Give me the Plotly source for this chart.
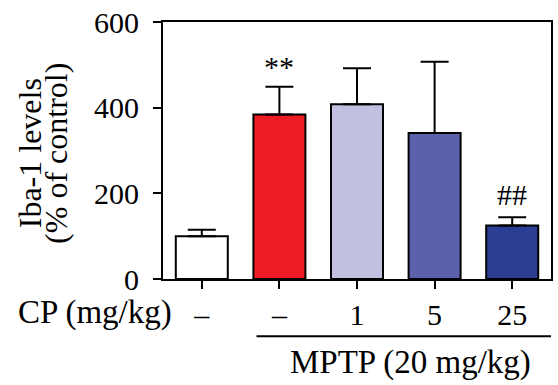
import plotly.graph_objects as go

categories = [0, 1, 2, 3, 4]
cp_labels = ["–", "–", "1", "5", "25"]
means = [100, 384, 408, 341, 125]
sem = [15, 65, 84, 166, 19]
colors = ["#FFFFFF", "#ED1C24", "#C2C0E0", "#5A60AA", "#2C3E93"]
sig_labels = ["", "**", "", "", "##"]
y_ticks = [0, 200, 400, 600]

FONT = "Liberation Serif, Times New Roman, serif"

fig = go.Figure()
fig.add_trace(go.Bar(
    x=categories, y=means,
    marker=dict(color=colors, line=dict(color="black", width=2)),
    error_y=dict(type="data", symmetric=False, array=sem, arrayminus=[0]*len(sem),
                 color="black", thickness=2, width=14),
    width=0.67,
    showlegend=False,
    hoverinfo="skip",
))

sig_shift = {"**": 0, "##": 3}
for c, m, e, s in zip(categories, means, sem, sig_labels):
    if s:
        fig.add_annotation(x=c, y=m + e, xref="x", yref="y", text=s, showarrow=False,
                           font=dict(family=FONT, size=30, color="black"),
                           xanchor="center", yanchor="middle", yshift=20 + sig_shift[s])

fig.update_layout(
    width=558, height=385,
    margin=dict(l=163, r=5, t=19, b=106, pad=0),
    paper_bgcolor="white", plot_bgcolor="white",
    font=dict(family=FONT, size=30, color="black"),
    xaxis=dict(range=[-0.5, 4.5], tickvals=categories, ticktext=cp_labels,
               showline=True, linecolor="black", linewidth=2, mirror=True,
               ticks="outside", ticklen=8, tickwidth=2, tickcolor="black",
               showgrid=False, zeroline=False, ticklabelstandoff=0,
               tickfont=dict(family=FONT, size=30)),
    yaxis=dict(range=[0, 600], tickvals=y_ticks,
               showline=True, linecolor="black", linewidth=2, mirror=True,
               ticks="outside", ticklen=8, tickwidth=2, tickcolor="black",
               showgrid=False, zeroline=False, ticklabelstandoff=8,
               tickfont=dict(family=FONT, size=30)),
)

# y-axis title (two lines)
fig.add_annotation(x=-0.3436, y=0.488, xref="paper", yref="paper", text="Iba-1 levels",
                   textangle=-90, showarrow=False, xanchor="center", yanchor="middle",
                   font=dict(family=FONT, size=32))
fig.add_annotation(x=-0.2775, y=0.488, xref="paper", yref="paper", text="(% of control)",
                   textangle=-90, showarrow=False, xanchor="center", yanchor="middle",
                   font=dict(family=FONT, size=32))

# row label
fig.add_annotation(x=-0.174, y=-0.131, xref="paper", yref="paper", text="CP (mg/kg)",
                   showarrow=False, xanchor="center", yanchor="middle",
                   font=dict(family=FONT, size=33))

# MPTP group line and label
fig.add_shape(type="line", xref="x", yref="paper", x0=0.705, x1=4.6, y0=-0.223, y1=-0.223,
              line=dict(color="black", width=2))
fig.add_annotation(x=0.638, y=-0.323, xref="paper", yref="paper", text="MPTP (20 mg/kg)",
                   showarrow=False, xanchor="center", yanchor="middle",
                   font=dict(family=FONT, size=33))

fig.write_html("out.html", config={"displayModeBar": False, "staticPlot": True},
               post_script="document.body.style.margin='0';document.body.style.overflow='hidden';")
